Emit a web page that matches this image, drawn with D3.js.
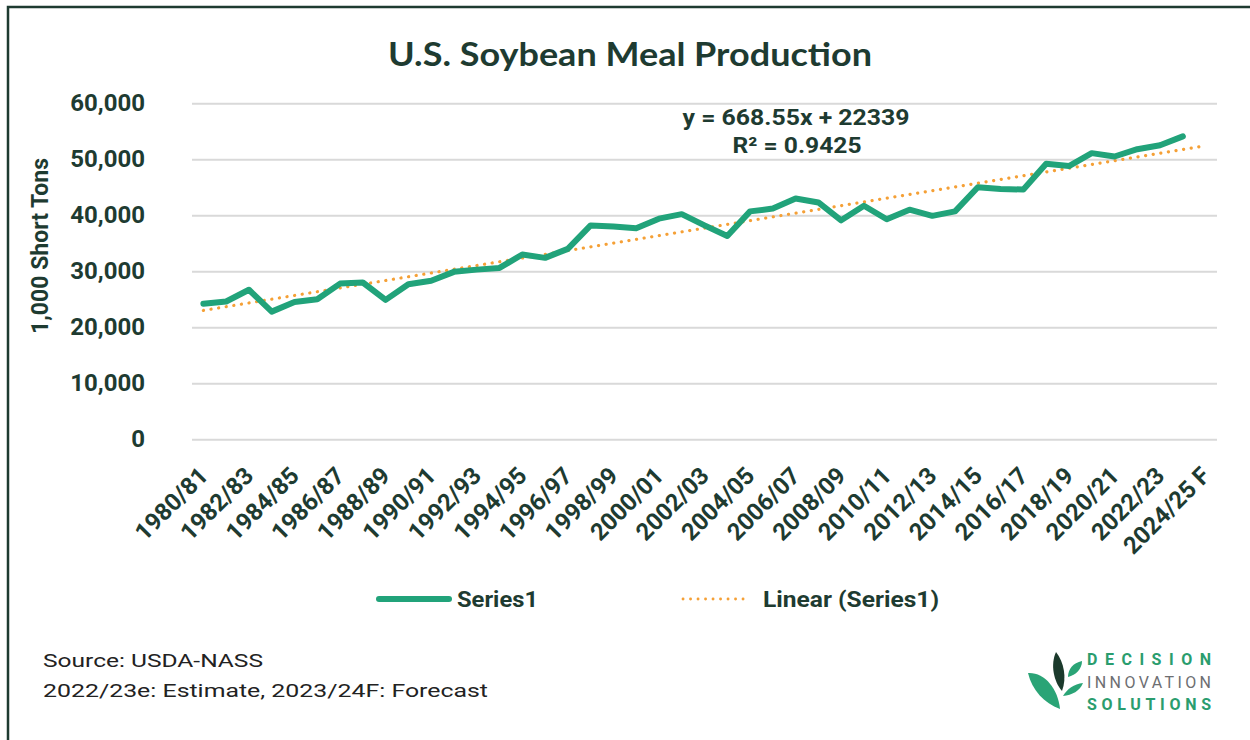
<!DOCTYPE html>
<html>
<head>
    <script src="https://d3js.org/d3.v7.min.js"></script>
    <style>
        body { margin: 0; background: #fff; }
        text { font-family: Roboto, "Liberation Sans", sans-serif; }
    </style>
</head>
<body>
<div id="chart"></div>
<script>
    // marketing years on the x axis (last one has no value, only the trend)
    const seasons = ["1980/81", "1981/82", "1982/83", "1983/84", "1984/85", "1985/86", "1986/87", "1987/88",
        "1988/89", "1989/90", "1990/91", "1991/92", "1992/93", "1993/94", "1994/95", "1995/96", "1996/97",
        "1997/98", "1998/99", "1999/00", "2000/01", "2001/02", "2002/03", "2003/04", "2004/05", "2005/06",
        "2006/07", "2007/08", "2008/09", "2009/10", "2010/11", "2011/12", "2012/13", "2013/14", "2014/15",
        "2015/16", "2016/17", "2017/18", "2018/19", "2019/20", "2020/21", "2021/22", "2022/23", "2023/24",
        "2024/25 F"];

    // production, 1,000 short tons
    const production = [24200, 24600, 26700, 22800, 24500, 25000, 27800, 28000, 24900, 27700, 28300,
        29900, 30300, 30600, 33000, 32400, 34000, 38200, 38000, 37700, 39400, 40200, 38200, 36300,
        40700, 41200, 43000, 42300, 39100, 41700, 39300, 41000, 39900, 40700, 45000, 44700, 44600,
        49200, 48800, 51100, 50500, 51800, 52500, 54100];

    const yTicks = [0, 10000, 20000, 30000, 40000, 50000, 60000];

    // excel linear trendline, x = 1..n
    const trendSlope = 668.55;
    const trendIntercept = 22339;
    const trendText = ["y = 668.55x + 22339", "R² = 0.9425"];

    const legendNames = ["Series1", "Linear (Series1)"];
    const notes = ["Source: USDA-NASS", "2022/23e: Estimate, 2023/24F: Forecast"];
    const logoWords = ["DECISION", "INNOVATION", "SOLUTIONS"];

    const dark = "#1e3b31", green = "#21a37a", orange = "#f5a036", grid = "#d9d9d9";

    const W = 1250, H = 740;
    const plot = { left: 192, right: 1217, top: 103.3, bottom: 439.3 };

    const svg = d3.select("#chart").append("svg")
        .attr("width", W).attr("height", H);

    // frame
    svg.append("rect")
        .attr("x", 8).attr("y", 7)
        .attr("width", W + 20).attr("height", H + 20)
        .attr("fill", "none").attr("stroke", dark).attr("stroke-width", 2.5);

    // title
    svg.append("text")
        .attr("x", 630).attr("y", 66)
        .attr("text-anchor", "middle")
        .style("font-family", "Lato, 'Open Sans', sans-serif")
        .style("font-weight", 700).style("font-size", "33px")
        .attr("fill", dark)
        .attr("textLength", 484).attr("lengthAdjust", "spacingAndGlyphs")
        .text("U.S. Soybean Meal Production");

    const x = d3.scaleBand().domain(d3.range(seasons.length)).range([plot.left, plot.right]);
    const cx = i => x(i) + x.bandwidth() / 2;
    const y = d3.scaleLinear().domain([0, 60000]).range([plot.bottom, plot.top]);

    // y axis with gridlines
    const yAxis = svg.append("g")
        .attr("transform", `translate(${plot.left},0)`)
        .call(d3.axisLeft(y).tickValues(yTicks).tickFormat(d3.format(","))
            .tickSize(-(plot.right - plot.left)).tickPadding(47));
    yAxis.select(".domain").remove();
    yAxis.selectAll(".tick line").attr("stroke", grid).attr("stroke-width", 2);
    yAxis.selectAll(".tick text")
        .attr("fill", dark)
        .style("font-size", "24px").style("font-weight", 700);

    // y title
    svg.append("text")
        .attr("transform", "translate(48,246) rotate(-90)")
        .attr("text-anchor", "middle")
        .attr("fill", dark)
        .style("font-size", "23px").style("font-weight", 700)
        .text("1,000 Short Tons");

    // x axis, every other season
    const xAxis = svg.append("g")
        .attr("transform", `translate(0,${plot.bottom})`)
        .call(d3.axisBottom(x).tickValues(d3.range(0, seasons.length, 2))
            .tickFormat(i => seasons[i]).tickSize(0));
    xAxis.select(".domain").remove();
    xAxis.selectAll(".tick text")
        .attr("x", 0).attr("y", 0).attr("dy", 0)
        .attr("text-anchor", "end")
        .attr("transform", "translate(6,38) rotate(-45)")
        .attr("fill", dark)
        .style("font-size", "24px").style("font-weight", 700);

    // trendline
    const trend = d3.range(seasons.length).map(i => ({ i: i, v: trendSlope * (i + 1) + trendIntercept }));
    svg.append("path")
        .datum(trend)
        .attr("fill", "none")
        .attr("stroke", orange).attr("stroke-width", 3.2)
        .attr("stroke-linecap", "round")
        .attr("stroke-dasharray", "0.1 7.6")
        .attr("d", d3.line().x(d => cx(d.i)).y(d => y(d.v)));

    // production line
    svg.append("path")
        .datum(production)
        .attr("fill", "none")
        .attr("stroke", green).attr("stroke-width", 6)
        .attr("stroke-linejoin", "round").attr("stroke-linecap", "round")
        .attr("d", d3.line().x((d, i) => cx(i)).y(d => y(d)));

    // equation label
    svg.append("text")
        .attr("x", 796).attr("y", 125)
        .attr("text-anchor", "middle").attr("fill", dark)
        .style("font-size", "22px").style("font-weight", 700)
        .attr("textLength", 227).attr("lengthAdjust", "spacingAndGlyphs")
        .text(trendText[0]);
    svg.append("text")
        .attr("x", 797).attr("y", 152.5)
        .attr("text-anchor", "middle").attr("fill", dark)
        .style("font-size", "22px").style("font-weight", 700)
        .attr("textLength", 129).attr("lengthAdjust", "spacingAndGlyphs")
        .text(trendText[1]);

    // legend
    const lg = svg.append("g");
    lg.append("line")
        .attr("x1", 379).attr("x2", 449).attr("y1", 599).attr("y2", 599)
        .attr("stroke", green).attr("stroke-width", 6).attr("stroke-linecap", "round");
    lg.append("text")
        .attr("x", 457).attr("y", 607).attr("fill", dark)
        .style("font-size", "22px").style("font-weight", 700)
        .attr("textLength", 81).attr("lengthAdjust", "spacingAndGlyphs")
        .text(legendNames[0]);
    lg.append("line")
        .attr("x1", 683).attr("x2", 750).attr("y1", 599).attr("y2", 599)
        .attr("stroke", orange).attr("stroke-width", 2.8).attr("stroke-linecap", "round")
        .attr("stroke-dasharray", "0.1 7.4");
    lg.append("text")
        .attr("x", 763).attr("y", 607).attr("fill", dark)
        .style("font-size", "22px").style("font-weight", 700)
        .attr("textLength", 176).attr("lengthAdjust", "spacingAndGlyphs")
        .text(legendNames[1]);

    // notes
    svg.selectAll(".note")
        .data(notes)
        .enter().append("text")
        .attr("class", "note")
        .attr("x", 43).attr("y", (d, i) => 667 + i * 30)
        .attr("fill", "#222")
        .style("font-size", "19px")
        .attr("textLength", (d, i) => i == 0 ? 220 : 445).attr("lengthAdjust", "spacingAndGlyphs")
        .text(d => d);

    // logo
    const logo = svg.append("g");
    logo.append("path").attr("fill", "#2aa476")
        .attr("d", "M1028,673 C1044,672 1058,688 1060,709 C1044,703 1032,690 1028,673Z");
    logo.append("path").attr("fill", "#1b3a2c")
        .attr("d", "M1056,652 C1050,665 1054,682 1062,691 C1067,678 1064,662 1056,652Z");
    logo.append("path").attr("fill", "#2aa476")
        .attr("d", "M1068,677 C1068,669 1073,663 1082,661 C1082,669 1076,675 1068,677Z");
    logo.append("path").attr("fill", "#2aa476")
        .attr("d", "M1063,696 C1067,689 1074,684 1083,683 C1080,691 1072,695 1063,696Z");
    logo.selectAll(".word")
        .data(logoWords)
        .enter().append("text")
        .attr("x", 1087).attr("y", (d, i) => 665 + i * 22.5)
        .attr("fill", (d, i) => i == 1 ? "#6d6e71" : "#2a9d6e")
        .style("font-size", "16px").style("font-weight", (d, i) => i == 1 ? 400 : 700)
        .attr("textLength", 124).attr("lengthAdjust", "spacing")
        .text(d => d);
</script>
</body>
</html>
